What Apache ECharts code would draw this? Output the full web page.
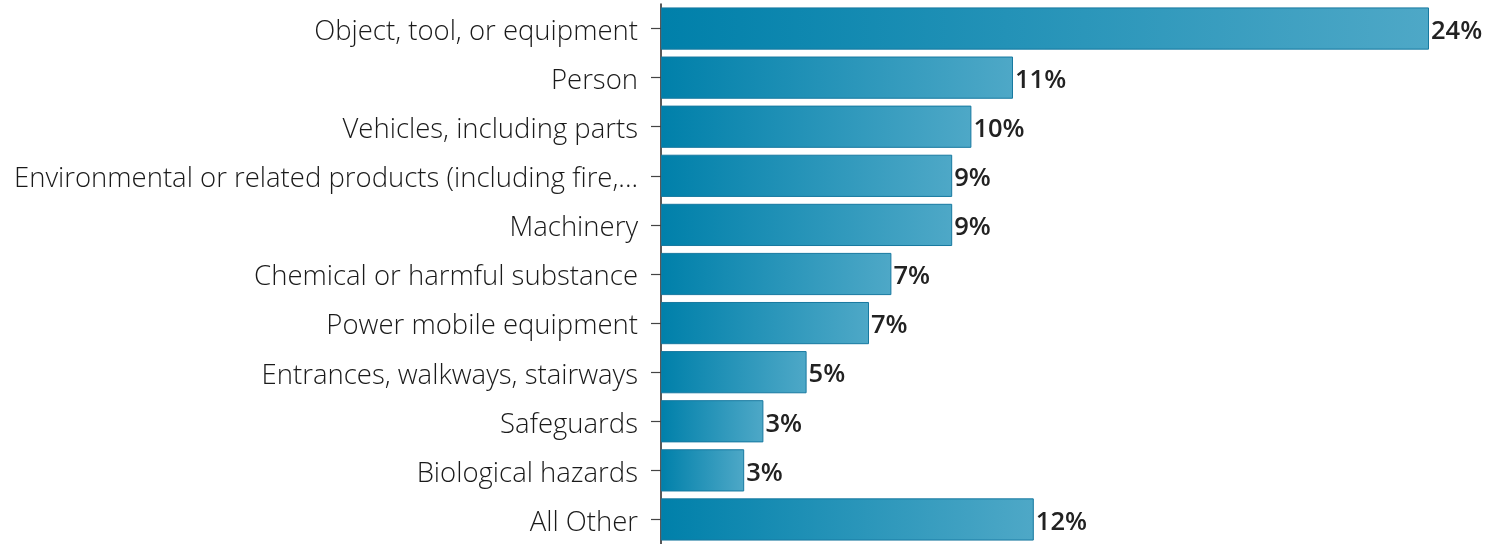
<!DOCTYPE html>
<html>
<head>
<meta charset="utf-8">
<script src="https://cdn.jsdelivr.net/npm/echarts@6/dist/echarts.min.js"></script>
<style>html,body{margin:0;padding:0;background:#fff;}#c{width:1489px;height:544px;}</style>
</head>
<body>
<div id="c"></div>
<script>
const categories = [
  "Object, tool, or equipment",
  "Person",
  "Vehicles, including parts",
  "Environmental or related products (including fire,...",
  "Machinery",
  "Chemical or harmful substance",
  "Power mobile equipment",
  "Entrances, walkways, stairways",
  "Safeguards",
  "Biological hazards",
  "All Other"
];
const values = [24.0, 11.0, 9.7, 9.1, 9.1, 7.2, 6.5, 4.55, 3.2, 2.6, 11.65];

const chart = echarts.init(document.getElementById('c'));
chart.setOption({
  animation: false,
  grid: { left: 661, right: 28, top: 4, bottom: 0, containLabel: false },
  xAxis: {
    type: 'value', min: 0, max: 25,
    show: false
  },
  yAxis: {
    type: 'category', data: categories, inverse: true,
    axisLine: { show: true, lineStyle: { color: '#222', width: 1.5 } },
    axisTick: { show: true, alignWithLabel: true, length: 10, lineStyle: { color: '#444', width: 1.2 } },
    axisLabel: {
      margin: 23,
      formatter: v => '{a|' + v + '}',
      rich: { a: { color: '#1a1a1a', fontFamily: 'Open Sans', fontWeight: 300, fontSize: 27.5, padding: [7, 0, 0, 0] } }
    }
  },
  series: [{
    type: 'bar',
    data: values,
    barCategoryGap: '14%',
    itemStyle: {
      color: new echarts.graphic.LinearGradient(0, 0, 1, 0, [
        { offset: 0, color: '#0080AA' },
        { offset: 1, color: '#4EA8C7' }
      ]),
      borderColor: '#1779A0',
      borderWidth: 1
    },
    label: {
      show: true, position: 'right', distance: 2, offset: [0, 3],
      formatter: p => Math.round(p.value) + '%',
      color: '#222', fontFamily: 'Open Sans', fontWeight: 600, fontSize: 25.5
    }
  }]
});
</script>
</body>
</html>
